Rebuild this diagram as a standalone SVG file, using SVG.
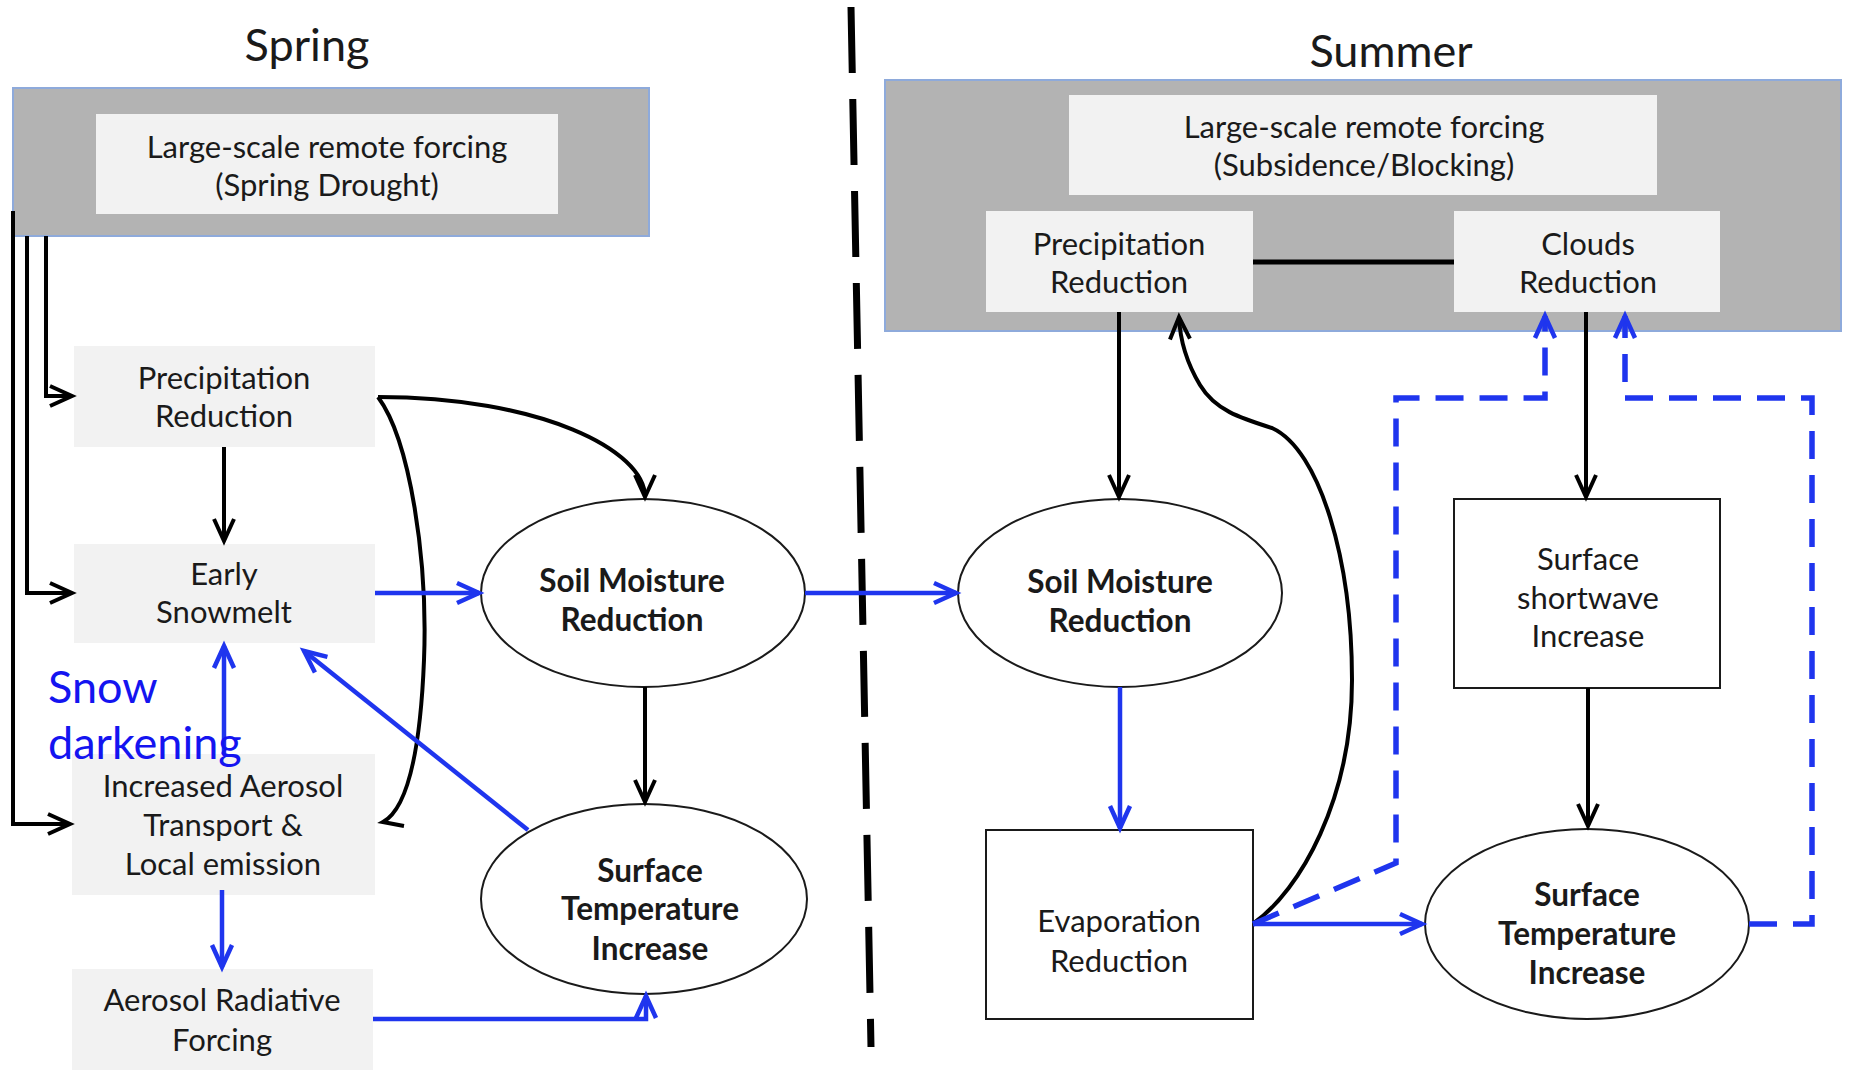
<svg xmlns="http://www.w3.org/2000/svg" width="1849" height="1071" viewBox="0 0 1849 1071">
<style>
text{font-family:Lato,"Open Sans","Liberation Sans",sans-serif;fill:#1a1a1a;text-anchor:middle}
.t{font-size:31px}
.b{font-size:31.5px;font-weight:bold}
.title{font-size:45px}
.gray{fill:#b3b3b3;stroke:#8eaadb;stroke-width:2}
.lt{fill:#f2f2f2}
.wb{fill:#fff;stroke:#1a1a1a;stroke-width:2}
.k{fill:none;stroke:#000;stroke-width:4}
.bl{fill:none;stroke:#1f35ee;stroke-width:4.5}
.dash{fill:none;stroke:#1f35ee;stroke-width:5.5;stroke-dasharray:28 16}
.snow{font-size:45px;fill:#1414f0;text-anchor:start}
</style>
<defs>
<marker id="ak" markerUnits="userSpaceOnUse" markerWidth="30" markerHeight="30" viewBox="-26 -15 30 30" refX="0" refY="0" orient="auto" overflow="visible"><path d="M-22,-10 L0,0 L-22,10" fill="none" stroke="#000" stroke-width="4"/></marker>
<marker id="abl" markerUnits="userSpaceOnUse" markerWidth="30" markerHeight="30" viewBox="-26 -15 30 30" refX="0" refY="0" orient="auto" overflow="visible"><path d="M-22,-10 L0,0 L-22,10" fill="none" stroke="#1f35ee" stroke-width="4.5" stroke-dasharray="none"/></marker>
</defs>

<rect width="1849" height="1071" fill="#fff"/>

<text class="title" x="307" y="61">Spring</text>
<text class="title" x="1391" y="67">Summer</text>

<line x1="851" y1="7" x2="871" y2="1047" stroke="#000" stroke-width="7" stroke-dasharray="66 26"/>

<g id="spring-forcing">
<rect class="gray" x="13" y="88" width="636" height="148"/>
<rect class="lt" x="96" y="114" width="462" height="100"/>
<text class="t" x="327" y="158">Large-scale remote forcing</text>
<text class="t" x="327" y="196">(Spring Drought)</text>
</g>

<g id="summer-forcing">
<rect class="gray" x="885" y="80" width="956" height="251"/>
<rect class="lt" x="1069" y="95" width="588" height="100"/>
<text class="t" x="1364" y="138">Large-scale remote forcing</text>
<text class="t" x="1364" y="176">(Subsidence/Blocking)</text>
</g>

<g id="summer-precip">
<rect class="lt" x="986" y="211" width="267" height="101"/>
<text class="t" x="1119" y="255">Precipitation</text>
<text class="t" x="1119" y="293">Reduction</text>
</g>

<g id="summer-clouds">
<rect class="lt" x="1454" y="211" width="266" height="101"/>
<text class="t" x="1588" y="255">Clouds</text>
<text class="t" x="1588" y="293">Reduction</text>
</g>

<g id="spring-precip">
<rect class="lt" x="74" y="346" width="301" height="101"/>
<text class="t" x="224" y="389">Precipitation</text>
<text class="t" x="224" y="427">Reduction</text>
</g>

<g id="early-snowmelt">
<rect class="lt" x="74" y="544" width="301" height="99"/>
<text class="t" x="224" y="585">Early</text>
<text class="t" x="224" y="623">Snowmelt</text>
</g>

<g id="increased-aerosol">
<rect class="lt" x="72" y="754" width="303" height="141"/>
<text class="t" x="223" y="797">Increased Aerosol</text>
<text class="t" x="223" y="836">Transport &amp;</text>
<text class="t" x="223" y="875">Local emission</text>
</g>

<g id="aerosol-forcing">
<rect class="lt" x="72" y="969" width="301" height="101"/>
<text class="t" x="222" y="1011">Aerosol Radiative</text>
<text class="t" x="222" y="1051">Forcing</text>
</g>

<g id="spring-soil">
<ellipse cx="643" cy="593" rx="162" ry="94" class="wb"/>
<text class="b" x="632" y="592">Soil Moisture</text>
<text class="b" x="632" y="631">Reduction</text>
</g>

<g id="spring-temp">
<ellipse cx="644" cy="899" rx="163" ry="95" class="wb"/>
<text class="b" x="650" y="882">Surface</text>
<text class="b" x="650" y="920">Temperature</text>
<text class="b" x="650" y="960">Increase</text>
</g>

<g id="summer-soil">
<ellipse cx="1120" cy="593" rx="162" ry="94" class="wb"/>
<text class="b" x="1120" y="593">Soil Moisture</text>
<text class="b" x="1120" y="632">Reduction</text>
</g>

<g id="shortwave">
<rect class="wb" x="1454" y="499" width="266" height="189"/>
<text class="t" x="1588" y="570">Surface</text>
<text class="t" x="1588" y="609">shortwave</text>
<text class="t" x="1588" y="647">Increase</text>
</g>

<g id="evaporation">
<rect class="wb" x="986" y="830" width="267" height="189"/>
<text class="t" x="1119" y="932">Evaporation</text>
<text class="t" x="1119" y="972">Reduction</text>
</g>

<g id="summer-temp">
<ellipse cx="1587" cy="924" rx="162" ry="95" class="wb"/>
<text class="b" x="1587" y="906">Surface</text>
<text class="b" x="1587" y="945">Temperature</text>
<text class="b" x="1587" y="984">Increase</text>
</g>

<g id="connectors">
<path class="k" stroke-width="3" d="M13,211 V824 H70" marker-end="url(#ak)"/>
<path class="k" stroke-width="3" d="M27,236 V593 H72" marker-end="url(#ak)"/>
<path class="k" stroke-width="3" d="M46,236 V396 H72" marker-end="url(#ak)"/>
<path class="k" d="M224,447 V541" marker-end="url(#ak)"/>
<path class="k" stroke-width="5" d="M378,397 C540,397 645,450 645,497" marker-end="url(#ak)"/>
<path class="k" d="M378,397 C410,440 428,560 424,660 C420,760 405,810 383,822 L404,826"/>
<path class="k" d="M645,687 V802" marker-end="url(#ak)"/>
<path class="bl" d="M375,593 H479" marker-end="url(#abl)"/>
<path class="bl" d="M224,754 V646" marker-end="url(#abl)"/>
<path class="bl" d="M528,830 L304,651" marker-end="url(#abl)"/>
<path class="bl" d="M222,890 V967" marker-end="url(#abl)"/>
<path class="bl" d="M373,1019 H646 V996" marker-end="url(#abl)"/>
<path class="bl" d="M805,593 H956" marker-end="url(#abl)"/>
<line x1="1253" y1="262" x2="1454" y2="262" stroke="#000" stroke-width="5"/>
<path class="k" d="M1119,312 V497" marker-end="url(#ak)"/>
<path class="k" d="M1586,312 V497" marker-end="url(#ak)"/>
<path class="k" d="M1588,688 V826" marker-end="url(#ak)"/>
<path class="k" d="M1254,923 C1300,890 1352,800 1352,680 C1352,560 1320,450 1272,428 C1240,418 1215,410 1200,385 C1188,365 1180,340 1179,317" marker-end="url(#ak)"/>
<path class="bl" d="M1120,687 V828" marker-end="url(#abl)"/>
<path class="bl" d="M1253,924 H1422" marker-end="url(#abl)"/>
<path class="dash" d="M1253,924 L1396,863 V398 H1545 V316" marker-end="url(#abl)"/>
<path class="dash" d="M1749,924 H1812 V398 H1625 V316" marker-end="url(#abl)"/>
</g>

<text class="snow" x="48" y="703">Snow</text>
<text class="snow" x="48" y="759">darkening</text>
</svg>
